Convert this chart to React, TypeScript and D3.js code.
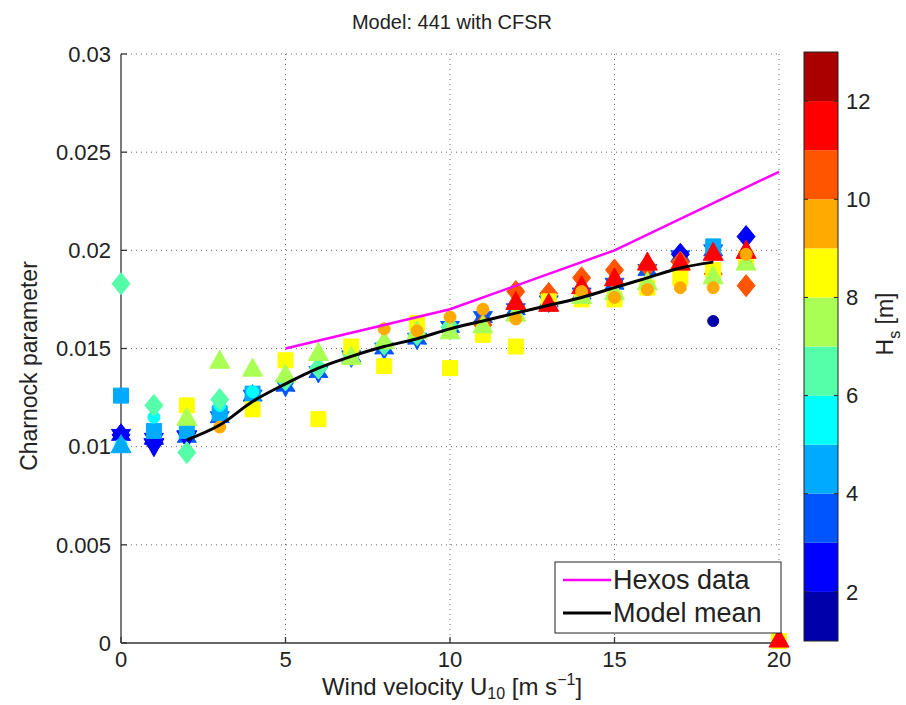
import React from "react";
import * as d3 from "d3";

// wind speed bins (m/s)
const windSpeed = d3.range(0, 21);

// model mean and Hexos reference
const meanWind = [2, 3, 4, 5, 6, 7, 8, 9, 10, 11, 12, 13, 14, 15, 16, 17, 18];
const meanCharnock = [0.01034, 0.0111, 0.0123, 0.0132, 0.014, 0.0146, 0.0151, 0.0155, 0.016, 0.0164, 0.0168, 0.0172, 0.0176, 0.0181, 0.0186, 0.0191, 0.0194];
const hexosWind = [5, 10, 15, 20];
const hexosCharnock = [0.015, 0.017, 0.02, 0.024];

// scatter series: charnock value and Hs per wind bin (null = no point)
const starCharnock = [0.0106, 0.0104, 0.0105, 0.0115, 0.0126, 0.0131, 0.0138, 0.0146, 0.015, 0.0155, 0.0161, 0.0166, 0.017, 0.0174, 0.0178, 0.0183, 0.019, 0.0197, 0.02, null, null];
const starHs = [2.5, 2.5, 3.5, 3.5, 3.5, 3.5, 3.5, 3.5, 3.5, 3.5, 3.5, 3.5, 3.5, 3.5, 3.5, 3.5, 3.5, 3.5, 3.5, 0, 0];

const blueDiamondCharnock = [0.0106, 0.0102, null, null, null, null, null, null, null, null, null, null, null, null, null, null, null, 0.0198, null, 0.0207, null];
const blueDiamondHs = [2.5, 2.5, 0, 0, 0, 0, 0, 0, 0, 0, 0, 0, 0, 0, 0, 0, 0, 2.5, 0, 2.5, 0];

const downTriCharnock = [null, 0.01, 0.0104, null, null, null, null, null, null, null, null, null, null, null, null, null, null, null, null, null, null];
const downTriHs = [0, 2.5, 2.5, 0, 0, 0, 0, 0, 0, 0, 0, 0, 0, 0, 0, 0, 0, 0, 0, 0, 0];

const blueSquareCharnock = [0.0126, 0.0108, 0.0108, 0.0117, 0.0127, null, null, null, null, null, null, null, null, null, null, null, null, null, 0.0202, null, null];
const blueSquareHs = [4.5, 4.5, 4.5, 4.5, 4.5, 0, 0, 0, 0, 0, 0, 0, 0, 0, 0, 0, 0, 0, 4.5, 0, 0];

const cyanCircleCharnock = [0.0101, 0.0115, null, 0.0121, 0.0128, null, null, null, null, null, null, null, null, null, null, null, null, null, null, null, null];
const cyanCircleHs = [5.5, 5.5, 0, 5.5, 5.5, 0, 0, 0, 0, 0, 0, 0, 0, 0, 0, 0, 0, 0, 0, 0, 0];

const diamondCharnock = [0.0183, 0.0121, 0.0097, 0.0124, null, 0.0134, 0.014, 0.0147, 0.0152, 0.0157, 0.0161, 0.0162, 0.0179, 0.0178, 0.0186, 0.019, 0.0192, 0.0194, 0.0188, 0.0182, null];
const diamondHs = [6.5, 6.5, 6.5, 6.5, 0, 6.5, 6.5, 6.5, 6.5, 6.5, 6.5, 10.5, 10.5, 10.5, 10.5, 10.5, 10.5, 10.5, 10.5, 10.5, 0];

const yellowSquareCharnock = [null, null, 0.0121, null, 0.0119, 0.0144, 0.0114, 0.0151, 0.0141, 0.0163, 0.014, 0.0157, 0.0151, 0.0174, 0.0175, 0.0175, 0.0181, 0.0186, 0.019, 0.0196, 0.0001];
const yellowSquareHs = [0, 0, 8.5, 0, 8.5, 8.5, 8.5, 8.5, 8.5, 8.5, 8.5, 8.5, 8.5, 8.5, 8.5, 8.5, 8.5, 8.5, 8.5, 8.5, 8.5];

const greenTriCharnock = [null, null, null, null, null, null, null, null, null, null, null, null, 0.0168, null, 0.0177, 0.0179, 0.0184, null, 0.0187, 0.0194, null];
const greenTriHs = [0, 0, 0, 0, 0, 0, 0, 0, 0, 0, 0, 0, 7.5, 0, 7.5, 7.5, 7.5, 0, 7.5, 7.5, 0];

const triangleCharnock = [0.0101, null, 0.0115, 0.0144, 0.014, 0.0137, 0.0148, 0.0146, 0.0154, 0.0159, 0.0159, 0.0162, 0.0174, 0.0173, 0.0182, 0.0186, 0.0194, 0.0194, 0.0199, 0.02, 0.0002];
const triangleHs = [4.5, 0, 7.5, 7.5, 7.5, 7.5, 7.5, 7.5, 7.5, 7.5, 7.5, 7.5, 11.5, 11.5, 11.5, 11.5, 11.5, 11.5, 11.5, 11.5, 11.5];

const circleCharnock = [null, null, null, 0.011, null, null, null, null, 0.016, 0.0159, 0.0166, 0.017, 0.0165, null, 0.0179, 0.0176, 0.018, 0.0181, 0.0181, 0.0198, null];
const circleHs = [0, 0, 0, 9.5, 0, 0, 0, 0, 9.5, 9.5, 9.5, 9.5, 9.5, 0, 9.5, 9.5, 9.5, 9.5, 9.5, 9.5, 0];

const navyCircleCharnock = [null, null, null, null, null, null, null, null, null, null, null, null, null, null, null, null, null, null, 0.0164, null, null];
const navyCircleHs = [0, 0, 0, 0, 0, 0, 0, 0, 0, 0, 0, 0, 0, 0, 0, 0, 0, 0, 1.5, 0, 0];

// jet(12) colormap
const jet12 = [
  "#0000aa", "#0000ff", "#0055ff", "#00aaff", "#00ffff", "#55ffaa",
  "#aaff55", "#ffff00", "#ffaa00", "#ff5500", "#ff0000", "#aa0000",
];
const xTicks = [0, 5, 10, 15, 20];
const yTicks = [0, 0.005, 0.01, 0.015, 0.02, 0.025, 0.03];
const cbTicks = [2, 4, 6, 8, 10, 12];

const FONT = "'Liberation Sans', Arial, Helvetica, sans-serif";

const markerPaths: Record<string, string> = {
  triangle: "M0,-10L10,8L-10,8Z",
  downTriangle: "M0,10L10,-8L-10,-8Z",
  diamond: "M0,-11L9,0L0,11L-9,0Z",
  square: "M-7.5,-7.5L7.5,-7.5L7.5,7.5L-7.5,7.5Z",
  circle: "M6,0A6,6 0 1 1 -6,0A6,6 0 1 1 6,0Z",
  smallCircle: "M5.5,0A5.5,5.5 0 1 1 -5.5,0A5.5,5.5 0 1 1 5.5,0Z",
  hexagram: (() => {
    const pts: string[] = [];
    for (let i = 0; i < 12; i++) {
      const r = i % 2 === 0 ? 11 : 6;
      const a = (Math.PI / 6) * i - Math.PI / 2;
      pts.push(`${(r * Math.cos(a)).toFixed(2)},${(r * Math.sin(a)).toFixed(2)}`);
    }
    return "M" + pts.join("L") + "Z";
  })(),
};

const series = [
  { shape: "hexagram", c: starCharnock, hs: starHs },
  { shape: "diamond", c: blueDiamondCharnock, hs: blueDiamondHs },
  { shape: "downTriangle", c: downTriCharnock, hs: downTriHs },
  { shape: "square", c: blueSquareCharnock, hs: blueSquareHs },
  { shape: "circle", c: cyanCircleCharnock, hs: cyanCircleHs },
  { shape: "diamond", c: diamondCharnock, hs: diamondHs },
  { shape: "square", c: yellowSquareCharnock, hs: yellowSquareHs },
  { shape: "triangle", c: greenTriCharnock, hs: greenTriHs },
  { shape: "triangle", c: triangleCharnock, hs: triangleHs },
  { shape: "circle", c: circleCharnock, hs: circleHs },
  { shape: "smallCircle", c: navyCircleCharnock, hs: navyCircleHs },
];

export default function App() {
  const left = 121, right = 779, top = 54, bottom = 643;
  const x = d3.scaleLinear().domain([0, 20]).range([left, right]);
  const y = d3.scaleLinear().domain([0, 0.03]).range([bottom, top]);
  const color = d3.scaleQuantize<string>().domain([1, 13]).range(jet12);

  const cbLeft = 804, cbRight = 838, cbTop = 52, cbBottom = 641;
  const cy = d3.scaleLinear().domain([1, 13]).range([cbBottom, cbTop]);

  const line = d3.line<[number, number]>()
    .x(d => x(d[0]))
    .y(d => y(d[1]));
  const meanLine = d3.line<[number, number]>()
    .x(d => x(d[0]))
    .y(d => y(d[1]))
    .curve(d3.curveCatmullRom);

  const grid = "#666";
  const tickFont = 22;

  return (
    <svg width={906} height={705} style={{ position: "absolute", left: 0, top: 0, background: "#fff" }}>
      <rect width={906} height={705} fill="#fff" />
      <text x={452} y={29} textAnchor="middle" fontFamily={FONT} fontSize={20} fill="#222">
        Model: 441 with CFSR
      </text>

      {/* grid */}
      {xTicks.filter(t => t > 0).map(t => (
        <line key={"gx" + t} x1={x(t)} x2={x(t)} y1={top} y2={bottom}
          stroke={grid} strokeWidth={1} strokeDasharray="1 4" />
      ))}
      {yTicks.filter(t => t > 0).map(t => (
        <line key={"gy" + t} x1={left} x2={right} y1={y(t)} y2={y(t)}
          stroke={grid} strokeWidth={1} strokeDasharray="1 4" />
      ))}

      {/* axes */}
      <line x1={left} x2={left} y1={top} y2={bottom} stroke="#333" strokeWidth={1.3} />
      <line x1={left} x2={right} y1={bottom} y2={bottom} stroke="#333" strokeWidth={1.3} />
      {yTicks.map(t => (
        <g key={"ty" + t}>
          <line x1={left} x2={left + 6} y1={y(t)} y2={y(t)} stroke="#333" strokeWidth={1.3} />
          <text x={left - 10} y={y(t)} dy="0.35em" textAnchor="end" fontFamily={FONT} fontSize={tickFont} fill="#222">
            {t === 0 ? "0" : d3.format("")(+t.toFixed(3))}
          </text>
        </g>
      ))}
      {xTicks.map(t => (
        <g key={"tx" + t}>
          <line x1={x(t)} x2={x(t)} y1={bottom} y2={bottom - 6} stroke="#333" strokeWidth={1.3} />
          <text x={x(t)} y={bottom + 16} dy="0.35em" textAnchor="middle" fontFamily={FONT} fontSize={tickFont} fill="#222">
            {t}
          </text>
        </g>
      ))}

      {/* scatter */}
      {series.map((s, si) => (
        <g key={"s" + si}>
          {windSpeed.map((u, i) => {
            const v = s.c[i];
            if (v === null) return null;
            const col = color(s.hs[i]);
            return (
              <path key={i} d={markerPaths[s.shape]} transform={`translate(${x(u)},${y(v)})`}
                fill={col} stroke={col} strokeWidth={1} />
            );
          })}
        </g>
      ))}

      {/* lines */}
      <path d={line(hexosWind.map((u, i) => [u, hexosCharnock[i]] as [number, number])) || ""}
        fill="none" stroke="#ff00ff" strokeWidth={2.5} />
      <path d={meanLine(meanWind.map((u, i) => [u, meanCharnock[i]] as [number, number])) || ""}
        fill="none" stroke="#000" strokeWidth={3} />

      {/* legend */}
      <rect x={555} y={562} width={226} height={71} fill="#fff" stroke="#222" strokeWidth={1} />
      <line x1={563} x2={611} y1={580} y2={580} stroke="#ff00ff" strokeWidth={2.5} />
      <text x={613} y={580} dy="0.35em" fontFamily={FONT} fontSize={27} fill="#222">Hexos data</text>
      <line x1={563} x2={611} y1={613} y2={613} stroke="#000" strokeWidth={3} />
      <text x={613} y={613} dy="0.35em" fontFamily={FONT} fontSize={27} fill="#222">Model mean</text>

      {/* axis labels */}
      <text x={452} y={695} textAnchor="middle" fontFamily={FONT} fontSize={24} fill="#222">
        Wind velocity U<tspan dy={4} fontSize={16}>10</tspan>
        <tspan dy={-4}> [m s</tspan><tspan dy={-10} fontSize={16}>−1</tspan><tspan dy={10}>]</tspan>
      </text>
      <text transform="translate(37,366) rotate(-90)" textAnchor="middle" fontFamily={FONT} fontSize={23} fill="#222">
        Charnock parameter
      </text>

      {/* colorbar */}
      {jet12.map((c, i) => (
        <rect key={"cb" + i} x={cbLeft} width={cbRight - cbLeft}
          y={cy(i + 2)} height={cy(i + 1) - cy(i + 2)} fill={c} />
      ))}
      <rect x={cbLeft} y={cbTop} width={cbRight - cbLeft} height={cbBottom - cbTop} fill="none" stroke="#222" strokeWidth={1} />
      {cbTicks.map(t => (
        <g key={"cbt" + t}>
          <line x1={cbLeft} x2={cbLeft + 4} y1={cy(t)} y2={cy(t)} stroke="#222" />
          <line x1={cbRight} x2={cbRight - 4} y1={cy(t)} y2={cy(t)} stroke="#222" />
          <text x={cbRight + 8} y={cy(t)} dy="0.35em" fontFamily={FONT} fontSize={tickFont} fill="#222">{t}</text>
        </g>
      ))}
      <text transform="translate(893,324) rotate(-90)" textAnchor="middle" fontFamily={FONT} fontSize={23} fill="#222">
        H<tspan dy={7} fontSize={16}>s</tspan><tspan dy={-7}> [m]</tspan>
      </text>
    </svg>
  );
}
